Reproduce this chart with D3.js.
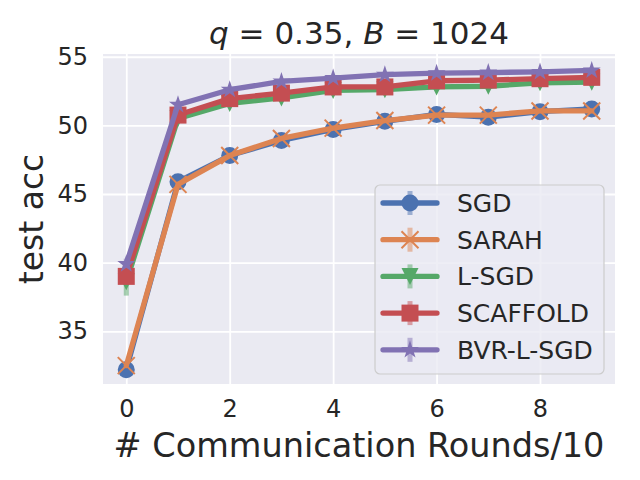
<!DOCTYPE html>
<html>
<head>
<meta charset="utf-8">
<script src="https://cdn.jsdelivr.net/npm/d3@7"></script>
<style>
  html, body { margin: 0; padding: 0; background: #fff; }
  text { font-family: "DejaVu Sans", sans-serif; fill: #262626; }
</style>
</head>
<body>
<svg id="chart" width="640" height="480"></svg>
<script>
// values
const rounds = [0, 1, 2, 3, 4, 5, 6, 7, 8, 9];
const seriesNames = ["SGD", "SARAH", "L-SGD", "SCAFFOLD", "BVR-L-SGD"];

const sgd = [32.2, 45.9, 47.8, 48.9, 49.7, 50.3, 50.8, 50.6, 51.0, 51.2];
const sarah = [32.5, 45.7, 47.8, 49.05, 49.8, 50.35, 50.75, 50.75, 51.05, 51.05];
const lsgd = [38.6, 50.5, 51.6, 52.0, 52.55, 52.6, 52.8, 52.85, 53.1, 53.15];
const scaffold = [39.0, 50.75, 51.95, 52.35, 52.8, 52.8, 53.25, 53.3, 53.4, 53.5];
const bvr = [39.9, 51.5, 52.6, 53.2, 53.45, 53.7, 53.8, 53.85, 53.9, 54.0];

const sgdStd = [0.3, 0.3, 0.2, 0.2, 0.2, 0.2, 0.2, 0.2, 0.2, 0.2];
const sarahStd = [0.3, 0.3, 0.2, 0.2, 0.2, 0.2, 0.2, 0.2, 0.2, 0.2];
const lsgdStd = [1.0, 0.3, 0.2, 0.2, 0.2, 0.2, 0.2, 0.2, 0.2, 0.2];
const scaffoldStd = [0.4, 0.3, 0.2, 0.2, 0.2, 0.2, 0.2, 0.2, 0.2, 0.2];
const bvrStd = [0.4, 0.3, 0.2, 0.2, 0.2, 0.2, 0.2, 0.2, 0.2, 0.2];

const xTicks = [0, 2, 4, 6, 8];
const yTicks = [35, 40, 45, 50, 55];

const colors = ["#4C72B0", "#DD8452", "#55A868", "#C44E52", "#8172B3"];
const markers = ["circle", "x", "tri", "square", "star"];

const seriesValues = [sgd, sarah, lsgd, scaffold, bvr];
const seriesStd = [sgdStd, sarahStd, lsgdStd, scaffoldStd, bvrStd];

const series = seriesNames.map((name, i) => ({
  name: name,
  color: colors[i],
  marker: markers[i],
  points: rounds.map((r, j) => ({ x: r, y: seriesValues[i][j], s: seriesStd[i][j] })),
}));

const svg = d3.select("#chart");
const margin = { left: 103, right: 25, top: 54, bottom: 96 };
const width = 640 - margin.left - margin.right;
const height = 480 - margin.top - margin.bottom;

const x = d3.scaleLinear().domain([-0.45, 9.45]).range([0, width]);
const y = d3.scaleLinear().domain([31.16, 55.2]).range([height, 0]);

const g = svg.append("g").attr("transform", `translate(${margin.left},${margin.top})`);

g.append("rect").attr("width", width).attr("height", height).attr("fill", "#EAEAF2");

// grid
g.append("g")
  .call(d3.axisBottom(x).tickValues(xTicks).tickSize(height).tickFormat(""))
  .call((a) => a.select(".domain").remove())
  .call((a) => a.selectAll("line").attr("stroke", "#fff").attr("stroke-width", 1.8));
g.append("g")
  .call(d3.axisLeft(y).tickValues(yTicks).tickSize(-width).tickFormat(""))
  .call((a) => a.select(".domain").remove())
  .call((a) => a.selectAll("line").attr("stroke", "#fff").attr("stroke-width", 1.8));

// tick labels
const xAxis = g.append("g")
  .attr("transform", `translate(0,${height})`)
  .call(d3.axisBottom(x).tickValues(xTicks).tickSize(0).tickPadding(16).tickFormat(d3.format("d")));
xAxis.select(".domain").remove();
xAxis.selectAll("text").style("font-size", "24px").attr("fill", "#262626");

const yAxis = g.append("g")
  .call(d3.axisLeft(y).tickValues(yTicks).tickSize(0).tickPadding(15).tickFormat(d3.format("d")));
yAxis.select(".domain").remove();
yAxis.selectAll("text").style("font-size", "24px").attr("fill", "#262626");

const markerSize = 17;

function drawMarker(sel, kind, color) {
  const r = markerSize / 2;
  if (kind === "circle") {
    sel.append("circle").attr("r", r).attr("fill", color);
  } else if (kind === "square") {
    sel.append("rect").attr("x", -r).attr("y", -r).attr("width", 2 * r).attr("height", 2 * r).attr("fill", color);
  } else if (kind === "tri") {
    sel.append("path").attr("d", `M0,${r}L${-r},${-r}L${r},${-r}Z`).attr("fill", color);
  } else if (kind === "star") {
    sel.append("path").attr("d", d3.symbol(d3.symbolStar, 100)()).attr("fill", color);
  } else if (kind === "x") {
    sel.append("path")
      .attr("d", `M${-r},${-r}L${r},${r}M${-r},${r}L${r},${-r}`)
      .attr("stroke", color)
      .attr("stroke-width", 2)
      .attr("fill", "none");
  }
}

// error bars sit beneath every line
series.forEach((s) => {
  g.append("g")
    .selectAll("line")
    .data(s.points)
    .join("line")
    .attr("x1", (d) => x(d.x))
    .attr("x2", (d) => x(d.x))
    .attr("y1", (d) => y(d.y - d.s))
    .attr("y2", (d) => y(d.y + d.s))
    .attr("stroke", s.color)
    .attr("stroke-opacity", 0.5)
    .attr("stroke-width", 5);
});

const line = d3.line().x((d) => x(d.x)).y((d) => y(d.y));

series.forEach((s) => {
  const sg = g.append("g");
  sg.append("path")
    .datum(s.points)
    .attr("d", line)
    .attr("fill", "none")
    .attr("stroke", s.color)
    .attr("stroke-width", 5.3)
    .attr("stroke-linejoin", "round")
    .attr("stroke-linecap", "round");
  sg.selectAll("g.mk")
    .data(s.points)
    .join("g")
    .attr("class", "mk")
    .attr("transform", (d) => `translate(${x(d.x)},${y(d.y)})`)
    .each(function () {
      drawMarker(d3.select(this), s.marker, s.color);
    });
});

// legend
const lg = svg.append("g").attr("transform", "translate(375,185)");
lg.append("rect")
  .attr("width", 229)
  .attr("height", 189)
  .attr("rx", 5)
  .attr("fill", "#EAEAF2")
  .attr("fill-opacity", 0.8)
  .attr("stroke", "#cccccc")
  .attr("stroke-width", 1.2);

series.forEach((s, i) => {
  const row = lg.append("g").attr("transform", `translate(0,${18 + i * 36.7})`);
  row.append("line")
    .attr("x1", 35).attr("x2", 35).attr("y1", -12).attr("y2", 12)
    .attr("stroke", s.color).attr("stroke-opacity", 0.5).attr("stroke-width", 5);
  row.append("line")
    .attr("x1", 8).attr("x2", 62)
    .attr("stroke", s.color).attr("stroke-width", 5.3).attr("stroke-linecap", "round");
  drawMarker(row.append("g").attr("transform", "translate(35,0)"), s.marker, s.color);
  row.append("text")
    .attr("x", 82)
    .attr("dy", "0.36em")
    .style("font-size", "25px")
    .text(s.name);
});

// labels
svg.append("text")
  .attr("x", margin.left + width / 2)
  .attr("y", 457)
  .attr("text-anchor", "middle")
  .style("font-size", "33.5px")
  .text("# Communication Rounds/10");

svg.append("text")
  .attr("transform", `translate(43,${margin.top + height / 2}) rotate(-90)`)
  .attr("text-anchor", "middle")
  .style("font-size", "33px")
  .text("test acc");

const title = svg.append("text")
  .attr("x", margin.left + width / 2)
  .attr("y", 44)
  .attr("text-anchor", "middle")
  .style("font-size", "31px");
title.append("tspan").style("font-style", "italic").text("q");
title.append("tspan").text(" = 0.35, ");
title.append("tspan").style("font-style", "italic").text("B");
title.append("tspan").text(" = 1024");
</script>
</body>
</html>
